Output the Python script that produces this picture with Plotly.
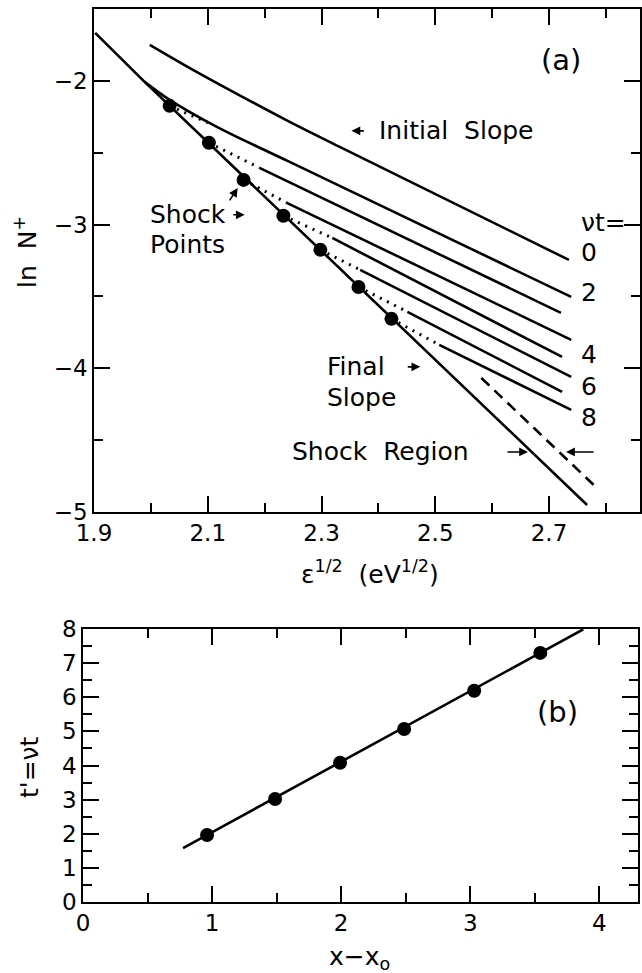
import plotly.graph_objects as go

W, H = 642, 973
FONT = "DejaVu Sans"

# ---------------- panel (a) data ----------------
# envelope / final-slope line through the shock points
env_x = [1.902, 1.989, 2.767]
env_y = [-1.666, -2.007, -4.951]

# shock points (vt = 2 ... 8)
shock_x = [2.033, 2.102, 2.163, 2.233, 2.298, 2.365, 2.423]
shock_y = [-2.174, -2.431, -2.689, -2.939, -3.176, -3.434, -3.656]

# initial slope curve (vt = 0)
vt0_x = [1.998, 2.074, 2.161, 2.244, 2.332, 2.735]
vt0_y = [-1.749, -1.923, -2.111, -2.285, -2.459, -3.246]

# vt = 2 curve
vt2_x = [1.989, 2.033, 2.116, 2.244, 2.739]
vt2_y = [-2.007, -2.132, -2.320, -2.564, -3.503]

# solid parts of vt = 3 ... 8 (start, end)
vt3_x = [2.191, 2.721]; vt3_y = [-2.605, -3.614]
vt4_x = [2.239, 2.739]; vt4_y = [-2.849, -3.802]
vt5_x = [2.319, 2.723]; vt5_y = [-3.093, -3.921]
vt6_x = [2.368, 2.739]; vt6_y = [-3.315, -4.060]
vt7_x = [2.451, 2.723]; vt7_y = [-3.607, -4.164]
vt8_x = [2.507, 2.739]; vt8_y = [-3.837, -4.289]

# dotted connections from shock point k to the solid curve start
dot_end_x = [2.109, 2.191, 2.239, 2.319, 2.368, 2.451, 2.507]
dot_end_y = [-2.306, -2.605, -2.849, -3.093, -3.315, -3.607, -3.837]

# dashed line (shock region)
dash_x = [2.581, 2.784]
dash_y = [-4.067, -4.832]

vt_labels = ["0", "2", "4", "6", "8"]
vt_label_y = [-3.197, -3.475, -3.907, -4.129, -4.345]

# ---------------- panel (b) data ----------------
b_x = [0.961, 1.488, 1.992, 2.488, 3.031, 3.543]
b_y = [1.965, 3.02, 4.08, 5.07, 6.19, 7.30]
fit_x = [0.775, 3.876]
fit_y = [1.58, 7.99]

LW = 2.6
fig = go.Figure()

def solid(x, y, shape="linear"):
    fig.add_trace(go.Scatter(x=x, y=y, mode="lines", xaxis="x", yaxis="y",
                             line=dict(color="black", width=LW, shape=shape),
                             showlegend=False, hoverinfo="skip"))

solid(env_x, env_y)
solid(vt0_x, vt0_y, "spline")
solid(vt2_x, vt2_y, "spline")
for xs, ys in [(vt3_x, vt3_y), (vt4_x, vt4_y), (vt5_x, vt5_y),
               (vt6_x, vt6_y), (vt7_x, vt7_y), (vt8_x, vt8_y)]:
    solid(xs, ys)

for i in range(len(shock_x)):
    fig.add_trace(go.Scatter(x=[shock_x[i], dot_end_x[i]], y=[shock_y[i], dot_end_y[i]],
                             mode="lines", xaxis="x", yaxis="y",
                             line=dict(color="black", width=3, dash="2px,6px"),
                             showlegend=False, hoverinfo="skip"))

fig.add_trace(go.Scatter(x=dash_x, y=dash_y, mode="lines", xaxis="x", yaxis="y",
                         line=dict(color="black", width=LW, dash="11px,7px"),
                         showlegend=False, hoverinfo="skip"))

fig.add_trace(go.Scatter(x=shock_x, y=shock_y, mode="markers", xaxis="x", yaxis="y",
                         marker=dict(color="black", size=14),
                         showlegend=False, hoverinfo="skip"))

# panel (b)
fig.add_trace(go.Scatter(x=fit_x, y=fit_y, mode="lines", xaxis="x2", yaxis="y2",
                         line=dict(color="black", width=LW),
                         showlegend=False, hoverinfo="skip"))
fig.add_trace(go.Scatter(x=b_x, y=b_y, mode="markers", xaxis="x2", yaxis="y2",
                         marker=dict(color="black", size=14),
                         showlegend=False, hoverinfo="skip"))


def axis(domain, anchor, rng, dtick, tick0, mdtick):
    return dict(domain=domain, anchor=anchor, range=rng, dtick=dtick, tick0=tick0,
                automargin=False,
                showline=True, linecolor="black", linewidth=1.6, mirror="allticks",
                ticks="inside", ticklen=16, tickwidth=1.5, tickcolor="black",
                showgrid=False, zeroline=False,
                tickfont=dict(family=FONT, size=23, color="black"),
                minor=dict(ticks="inside", ticklen=9, tickwidth=1.5, tickcolor="black",
                           dtick=mdtick, tick0=tick0, showgrid=False))

def px_x(p):
    return p / W

def px_y(p):
    return 1 - p / H

ann = []

def txt(x, y, text, size=25, xanchor="center", xref="x", yref="y", angle=0):
    ann.append(dict(x=x, y=y, text=text, xref=xref, yref=yref, showarrow=False,
                    xanchor=xanchor, yanchor="middle", textangle=angle,
                    font=dict(family=FONT, size=size, color="black")))

def arrow(x, y, ax, ay, xref="x", yref="y"):
    ann.append(dict(x=x, y=y, ax=ax, ay=ay, xref=xref, yref=yref, text="",
                    showarrow=True, arrowhead=2, arrowsize=1.1, arrowwidth=1.6,
                    arrowcolor="black"))

# panel (a) texts
txt(2.721, -1.854, "(a)", size=29)
txt(2.397, -2.348, "Initial  Slope", xanchor="left")
arrow(2.3526, -2.348, 14, 0)
txt(2.7526, -2.988, "νt=", xanchor="left")
for lab, yy in zip(vt_labels, vt_label_y):
    txt(2.770, yy, lab)
txt(1.995, -2.932, "Shock", xanchor="left")
arrow(2.165, -2.932, -13, 0)
txt(1.995, -3.141, "Points", xanchor="left")
arrow(2.1526, -2.745, -9, 14)
txt(2.307, -3.990, "Final", xanchor="left")
arrow(2.4737, -3.990, -14, 0)
txt(2.307, -4.206, "Slope", xanchor="left")
txt(2.244, -4.582, "Shock  Region", xanchor="left")
arrow(2.663, -4.582, -22, 0)
arrow(2.730, -4.582, 29, 0)

# panel (b) text
txt(3.68, 5.57, "(b)", size=29, xref="x2", yref="y2")

# axis titles
txt(px_x(370), px_y(572), "ε<sup>1/2</sup>  (eV<sup>1/2</sup>)", xref="paper", yref="paper")
txt(px_x(26), px_y(252), "ln  N<sup>+</sup>", xref="paper", yref="paper", angle=-90)
txt(px_x(29), px_y(767), "t'=νt", xref="paper", yref="paper", angle=-90)
txt(px_x(360), px_y(958), "x−x<sub>o</sub>", xref="paper", yref="paper")

fig.update_layout(
    template="none",
    width=W, height=H,
    margin=dict(l=0, r=0, t=0, b=0, autoexpand=False),
    paper_bgcolor="white", plot_bgcolor="white",
    xaxis=axis([94 / W, 640 / W], "y", [1.9, 2.86], 0.2, 1.9, 0.1),
    yaxis=axis([px_y(512), px_y(9)], "x", [-5, -1.5], 1, -5, 0.5),
    xaxis2=axis([83 / W, 638 / W], "y2", [0, 4.3], 1, 0, 0.5),
    yaxis2=axis([px_y(902), px_y(629)], "x2", [0, 8], 1, 0, 0.5),
    annotations=ann,
    showlegend=False,
)

fig.write_html("out.html", config={"displayModeBar": False},
               post_script="document.body.style.margin='0';document.body.style.overflow='hidden';")
